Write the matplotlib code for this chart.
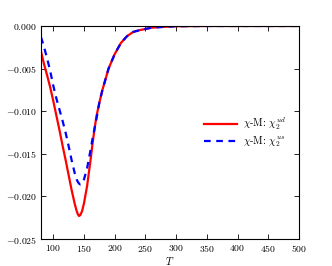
import matplotlib
matplotlib.use("Agg")
import matplotlib.pyplot as plt

# computer modern look
plt.rcParams["font.family"] = "serif"
plt.rcParams["font.serif"] = ["cmr10"]
plt.rcParams["mathtext.fontset"] = "cm"
plt.rcParams["axes.formatter.use_mathtext"] = True

# temperatura y susceptibilidades
T = [80, 85, 90, 95, 100, 105, 110, 115, 120, 125, 130, 135, 138, 140, 142,
     144, 147, 150, 155, 160, 165, 170, 175, 180, 190, 200, 210, 220, 230,
     240, 260, 280, 300, 350, 400, 500]
chi_ud = [-0.0030, -0.0045, -0.0058, -0.0072, -0.0088, -0.0105, -0.0122,
          -0.0140, -0.0157, -0.0175, -0.0193, -0.0209, -0.0217, -0.0221,
          -0.0223, -0.0222, -0.0217, -0.0208, -0.0188, -0.0161, -0.0132,
          -0.0107, -0.0090, -0.0075, -0.0050, -0.0033, -0.0020, -0.0012,
          -0.0007, -0.0005, -0.0002, -0.0001, -0.00003, 0.0, 0.0, 0.0]
chi_us = [-0.0013, -0.0025, -0.0038, -0.0053, -0.0070, -0.0085, -0.0098,
          -0.0111, -0.0125, -0.0141, -0.0158, -0.0173, -0.0180, -0.0183,
          -0.0185, -0.0186, -0.0185, -0.0180, -0.0167, -0.0148, -0.0128,
          -0.0110, -0.0090, -0.0075, -0.0050, -0.0033, -0.0020, -0.0012,
          -0.0007, -0.0005, -0.0002, -0.0001, -0.00003, 0.0, 0.0, 0.0]

xticks = [100, 150, 200, 250, 300, 350, 400, 450, 500]
yticks = [-0.025, -0.020, -0.015, -0.010, -0.005, 0.000]

fig = plt.figure(figsize=(3.32, 2.66), dpi=100)
ax = fig.add_axes([0.1235, 0.1015, 0.777, 0.8008])

ax.plot(T, chi_ud, color="red", lw=1.6, label=r"$\chi$-M: $\chi_2^{ud}$")
ax.plot(T, chi_us, color="blue", lw=1.6, ls=(0, (3, 2.5)),
        label=r"$\chi$-M: $\chi_2^{us}$")

ax.set_xlim(80, 500)
ax.set_ylim(-0.025, 0.0)
ax.set_xticks(xticks)
ax.set_yticks(yticks)
ax.set_yticklabels([r"$-%.3f$" % abs(v) if v < 0 else r"$0.000$" for v in yticks])
ax.tick_params(direction="in", top=True, right=True, labelsize=7, length=3.5,
               width=0.6, pad=3)
for s in ax.spines.values():
    s.set_linewidth(0.8)

ax.set_xlabel(r"$T$", fontsize=7.5, labelpad=0.5)
ax.legend(loc="center right", frameon=False, fontsize=7.5,
          bbox_to_anchor=(0.985, 0.50), handlelength=3.2, handletextpad=0.5,
          labelspacing=0.25)

fig.savefig("out.png", dpi=100)
